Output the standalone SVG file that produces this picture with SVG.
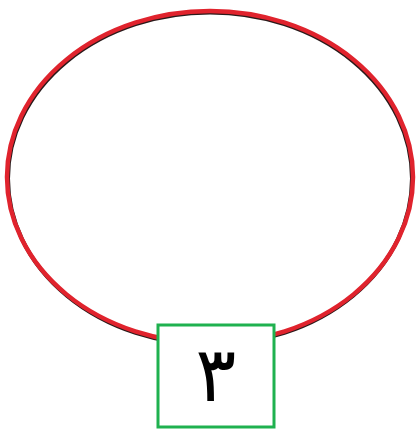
<svg xmlns="http://www.w3.org/2000/svg" width="417" height="432" viewBox="0 0 417 432">
<style>
.num{font-family:"DejaVu Sans",sans-serif;font-size:76px;fill:#000;text-anchor:middle}
</style>
<rect width="417" height="432" fill="#fff"/>
<g id="ellipse">
<ellipse cx="210" cy="178.5" rx="202" ry="166" fill="none" stroke="#2a1a1a" stroke-width="4"/>
<ellipse cx="210" cy="177" rx="203" ry="166" fill="none" stroke="#e0232d" stroke-width="4.5"/>
</g>
<g id="label">
<rect x="158" y="325" width="116" height="102" fill="#fff" stroke="#1fb14f" stroke-width="3"/>
<text class="num" x="216" y="401">٣</text>
</g>
</svg>
